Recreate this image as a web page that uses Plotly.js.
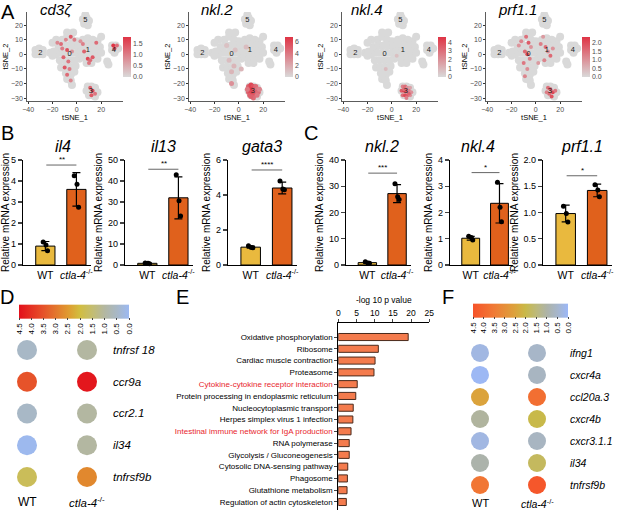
<!DOCTYPE html>
<html><head><meta charset="utf-8">
<script src="https://cdn.plot.ly/plotly-3.0.1.min.js"></script>
<style>html,body{margin:0;padding:0;background:#fff}#chart{width:617px;height:512px}</style>
</head><body><div id="chart"></div>
<script>
const W=617,H=512;
const FONT='"Liberation Sans", Arial, sans-serif';

// ================= DATA =================
// A: tSNE background cells (approximate cluster clouds)
const cellX=[-12,-8,-4,0,-15,-11,-7,-3,1,-16,-12,-8,-4,0,3,-14,-10,-6,-2,2,-13,-9,-5,-1,-9,-5,-2,-8,-5,-4,
 5,9,13,17,3,7,11,15,19,4,8,12,16,20,5,9,13,17,8,12,
 -34,-31,-28,-34,-31,-28,-22,-19,-17,-20,
 29,32,29,32,34,31, 25,26,
 5,8,10,6,9,7,
 9,12,15,8,11,14,17,10,13,15,
 -17,-20,20,-3,-8];
const cellY=[10,12,10,9,5,6,6,6,5,1,1,1,1,1,2,-4,-4,-4,-4,-3,-9,-9,-9,-8,-13,-14,-12,-17,-18,-21,
 10,11,10,9,6,6,6,6,5,2,2,2,2,1,-2,-2,-2,-3,-6,-6,
 3,4,3,0,0,0,1,2,0,-1,
 6,6,3,3,4,1, -5,-7,
 24,25,23,21,20,27,
 -22,-22,-23,-25,-25,-25,-26,-28,-28,-29,
 10,8,12,15,15];
const clusterIds=['0','1','2','3','4','5'];
const clusterX=[-6,9,-30,11.6,30.5,7];
const clusterY=[0,2.6,0.7,-25,3,23.6];
const tsneGenes=['cd3ζ','nkl.2','nkl.4','prf1.1'];
const cd3zX=[-13,-9,-5,-12,-8,-4,-11,-7,-10,-6,-8,-5,5,6,9,11,13,10,3,30,31,33,11,13,15,12,-16,-2,16];
const cd3zY=[7,10,12,4,3,2,-2,-5,-9,-10,-14,-18,7,2,-3,-4,-2,-6,9,6,4,6,-23,-25,-27,-28,8,10,8];
const cd3zV=[1.2,0.9,1.4,1.0,1.5,0.8,1.3,1.1,1.4,1.0,1.2,0.9,1.0,1.3,1.6,1.2,1.4,1.1,0.8,1.8,1.5,1.2,1.3,1.6,1.1,1.4,0.9,1.0,1.2];
const nkl2X=[8,10,12,14,9,11,13,15,8,10,12,14,16,9,11,13,15,12,10,7,17,-6,-4,-8,-3,-10,6,2,-6];
const nkl2Y=[-22,-21,-22,-22,-24,-24,-24,-24,-26,-26,-26,-26,-26,-28,-28,-28,-28,-30,-29,-24,-24,-20,-8,-4,3,6,5,-10,-12];
const nkl2V=[5,6,5.5,4.5,6,6.5,5,4,5,6,6,5,4.5,5,6,5.5,4,4.5,5,4,3.5,3,1.5,1.2,1,1,1.2,1.5,1.5];
const nkl4X=[9,11,13,15,8,10,12,14,16,9,11,13,15,12,10,14,-5,4];
const nkl4Y=[-22,-22,-23,-23,-25,-25,-25,-25,-26,-28,-28,-28,-28,-30,-24,-27,-10,-1];
const nkl4V=[2.5,3,2,1.5,3.5,4.2,3.8,2.5,2,3,4,3.5,2,2.5,3,3.2,0.8,0.7];
const prf1X=[-8,-12,-6,-4,-9,-7,-5,-10,-7,-9,4,8,10,12,7,14,6,10,12,14,11,9,13,16,-14,2];
const prf1Y=[12,9,8,5,2,0,-3,-6,-10,-15,7,5,2,-1,-4,4,12,-23,-24,-26,-27,-26,-29,-25,6,-6];
const prf1V=[1.5,1.2,1.8,1.0,1.6,2.0,1.3,1.4,1.1,1.2,1.3,1.5,1.1,1.6,1.2,1.0,0.9,1.5,1.8,2.1,1.6,1.3,1.9,1.4,1.0,0.9];
const tsneMax=[1.8,6.8,4.6,2.35];
const tsneTicks=[[0,0.5,1,1.5],[0,2,4,6],[0,1,2,3,4],[0,0.5,1,1.5,2]];

// B/C: qPCR bars
const barGenes=['il4','il13','gata3','nkl.2','nkl.4','prf1.1'];
const groups=['WT','<i>ctla-4</i><sup>-/-</sup>'];
const barMean=[[0.9,3.6],[0.8,32],[1.02,4.4],[0.9,27.2],[1.02,2.35],[0.98,1.42]];
const barSD=[[0.22,0.8],[0.3,10],[0.06,0.34],[0.25,3.4],[0.07,0.75],[0.16,0.12]];
const wtPts=[[1.1,0.95,0.68],[1.0,0.8,0.6],[1.1,1.0,0.98],[1.2,0.8,0.7],[1.1,1.05,0.95],[1.12,0.98,0.82]];
const koPts=[[4.25,3.85,2.75],[43,30.6,23.3],[4.8,4.35,4.3],[31,26,25],[3.15,2.2,1.65],[1.53,1.43,1.3]];
const sigY=[4.76,45.6,5.43,35,3.52,1.7];
const sigText=['**','**','****','***','*','*'];
const yMax=[5,50,6,40,4,2];
const yTicks=[[0,1,2,3,4,5],[0,10,20,30,40,50],[0,2,4,6],[0,10,20,30,40],[0,1,2,3,4],[0,0.5,1,1.5,2]];

// E: KEGG enrichment
const keggTerms=['Oxidative phosphorylation','Ribosome','Cardiac muscle contraction','Proteasome',
 'Cytokine-cytokine receptor interaction','Protein processing in endoplasmic reticulum','Nucleocytoplasmic transport',
 'Herpes simplex virus 1 infection','Intestinal immune network for IgA production','RNA polymerase',
 'Glycolysis / Gluconeogenesis','Cytosolic DNA-sensing pathway','Phagosome','Glutathione metabolism','Regulation of actin cytoskeleton'];
const keggLogP=[19.2,11.0,10.1,9.8,5.2,4.8,4.1,4.0,3.5,3.0,3.0,2.6,2.5,2.4,2.2];
const keggHighlight=[0,0,0,0,1,0,0,0,1,0,0,0,0,0,0];

// D: dot heat map
const dGenes=['tnfrsf 18','ccr9a','ccr2.1','il34','tnfrsf9b'];
const dWT=[0.5,3.5,0.5,0.05,1.75];
const dKO=[1.0,4.4,1.0,1.0,2.75];
// F: dot heat map
const fGenes=['ifng1','cxcr4a','ccl20a.3','cxcr4b','cxcr3.1.1','il34','tnfrsf9b'];
const fWT=[0.25,0.05,2.5,1.1,0.25,0.95,3.6];
const fKO=[0.55,0.65,3.8,2.0,0.65,1.8,4.4];
const heatTicks=[4.5,4.0,3.5,3.0,2.5,2.0,1.5,1.0,0.5,0.0];

// ================= BUILD =================
const traces=[];
const layout={width:W,height:H,margin:{l:0,r:0,t:0,b:0},paper_bgcolor:'#fff',plot_bgcolor:'rgba(0,0,0,0)',
  showlegend:false,font:{family:FONT,color:'#000'},annotations:[],shapes:[]};
let axN=0;
function addAxes(xd,yd,xo,yo){
  axN++; const s=axN===1?'':String(axN);
  layout['xaxis'+s]=Object.assign({domain:[xd[0]/W,xd[1]/W],anchor:'y'+s,showgrid:false,zeroline:false,fixedrange:true},xo);
  layout['yaxis'+s]=Object.assign({domain:[1-yd[1]/H,1-yd[0]/H],anchor:'x'+s,showgrid:false,zeroline:false,fixedrange:true},yo);
  return {x:'x'+s,y:'y'+s};
}
function ann(x,y,text,o){layout.annotations.push(Object.assign({xref:'paper',yref:'paper',x:x/W,y:1-y/H,text:text,showarrow:false,xanchor:'center',yanchor:'middle',font:{size:10}},o||{}));}

// ---- A ----
const tsneL=[27,189,342,486];
const tsneTitleX=[56,217,367,517];
const exprX=[cd3zX,nkl2X,nkl4X,prf1X], exprY=[cd3zY,nkl2Y,nkl4Y,prf1Y], exprV=[cd3zV,nkl2V,nkl4V,prf1V];
const redScale=[[0,'#d9d9d9'],[1,'#df3445']];
for(let k=0;k<4;k++){
  const L=tsneL[k];
  const a=addAxes([L,L+96],[12,101],
    {range:[-41,38],tickvals:[-40,-20,0,20],showline:true,linecolor:'#333',linewidth:0.8,ticks:'outside',ticklen:2,tickcolor:'#333',
     tickfont:{size:7,color:'#4d4d4d'},title:{text:'tSNE_1',font:{size:7.5},standoff:1}},
    {range:[-32,29],tickvals:[-30,-20,-10,0,10,20],showline:true,linecolor:'#333',linewidth:0.8,ticks:'outside',ticklen:2,tickcolor:'#333',
     tickfont:{size:7,color:'#4d4d4d'},title:{text:'tSNE_2',font:{size:7.5},standoff:1}});
  traces.push({type:'scatter',mode:'markers',x:cellX,y:cellY,xaxis:a.x,yaxis:a.y,marker:{size:8,color:'#d9d9d9'},hoverinfo:'skip'});
  traces.push({type:'scatter',mode:'markers',x:exprX[k],y:exprY[k],xaxis:a.x,yaxis:a.y,hoverinfo:'skip',
    marker:{size:k===1?5:4,color:exprV[k],colorscale:redScale,cmin:0,cmax:tsneMax[k],showscale:true,
      colorbar:{x:(L+96)/W,xanchor:'left',xpad:0,y:1-57/H,yanchor:'middle',ypad:0,len:40,lenmode:'pixels',thickness:8,
        outlinewidth:0,ticks:'',tickvals:tsneTicks[k],tickformat:(k===0||k===3)?'.1f':'d',tickfont:{size:7,color:'#4d4d4d'}}}});
  traces.push({type:'scatter',mode:'text',x:clusterX,y:clusterY,text:clusterIds,xaxis:a.x,yaxis:a.y,textfont:{size:7.5,color:'#222'},hoverinfo:'skip'});
  ann(tsneTitleX[k],9,'<i>'+tsneGenes[k]+'</i>',{font:{size:15}});
}

// ---- B / C ----
const barXd=[[23,91],[125,193],[228,297],[346,411],[450,513],[543,612]];
const barTitleX=[63,163,262,382,478,582];
const jit=[-0.07,0.02,0.07];
for(let k=0;k<6;k++){
  const a=addAxes(barXd[k],[160,265],
    {range:[-0.72,1.47],tickvals:[0,1],ticktext:groups,showline:true,linecolor:'#000',linewidth:1.2,ticks:'',tickfont:{size:10.5}},
    {range:[0,yMax[k]],tickvals:yTicks[k],tickformat:k===5?'.1f':'',showline:true,linecolor:'#000',linewidth:1.2,ticks:'outside',ticklen:4,
     tickwidth:1.2,tickfont:{size:9},title:{text:'Relative mRNA expression',font:{size:10},standoff:3}});
  traces.push({type:'bar',x:[0,1],y:barMean[k],xaxis:a.x,yaxis:a.y,width:0.62,
    marker:{color:['#e9b93e','#e0611c'],line:{color:'#000',width:1}},
    error_y:{type:'data',array:barSD[k],visible:true,color:'#000',thickness:1.2,width:4},hoverinfo:'skip'});
  traces.push({type:'scatter',mode:'markers',x:jit.concat(jit.map(j=>1+j)),y:wtPts[k].concat(koPts[k]),xaxis:a.x,yaxis:a.y,
    marker:{size:5,color:'#000'},hoverinfo:'skip',cliponaxis:false});
  traces.push({type:'scatter',mode:'lines',x:[0.03,1.0],y:[sigY[k],sigY[k]],xaxis:a.x,yaxis:a.y,line:{color:'#666',width:1},hoverinfo:'skip',cliponaxis:false});
  layout.annotations.push({xref:a.x,yref:a.y,x:0.52,y:sigY[k],text:sigText[k],showarrow:false,yanchor:'bottom',yshift:-1,font:{size:8}});
  ann(barTitleX[k],146,'<i>'+barGenes[k]+'</i>',{font:{size:16}});
}

// ---- E ----
const eA=addAxes([338.3,429.3],[323,510],
  {range:[0,25],side:'top',tickvals:[0,5,10,15,20,25],showline:true,linecolor:'#000',linewidth:1,ticks:'outside',ticklen:3,
   tickfont:{size:8.5},title:{text:'-log 10 p value',font:{size:8.5},standoff:2}},
  {type:'category',categoryorder:'array',categoryarray:keggTerms,range:[14.68,-1.19],autorange:false,showline:true,linecolor:'#000',linewidth:1,
   ticks:'outside',ticklen:3,tickfont:{size:8},tickvals:keggTerms,
   ticktext:keggTerms.map((t,i)=>keggHighlight[i]?'<span style="color:#e8262d">'+t+'</span>':t)});
traces.push({type:'bar',orientation:'h',y:keggTerms,x:keggLogP,xaxis:eA.x,yaxis:eA.y,width:0.6,
  marker:{color:'#f47b4d',line:{color:'#4a2a1c',width:1}},hoverinfo:'skip'});

// ---- D / F ----
const scaleD=[[0,'#e3101c'],[0.22,'#e6522a'],[0.44,'#e0982f'],[0.55,'#d2bd3f'],[0.67,'#c3bd72'],[0.78,'#b3b7a2'],[0.89,'#a8b8c6'],[1,'#9cb9f2']];
const scaleF=[[0,'#f6532a'],[0.22,'#f07a35'],[0.44,'#dca23c'],[0.55,'#c9b948'],[0.67,'#bcb97c'],[0.78,'#adb3a8'],[0.89,'#a6b6cc'],[1,'#9cb8f8']];
function dotPanel(xd,yd,xr,yr,genes,wt,ko,scale,size,cb,labelX,labelFont,botY,botX,botFont){
  const a=addAxes(xd,yd,{range:xr,visible:false},{range:yr,visible:false});
  const idx=genes.map((g,i)=>i);
  const neg=v=>v.map(z=>-z);
  traces.push({type:'scatter',mode:'markers',x:idx.map(()=>0),y:idx,xaxis:a.x,yaxis:a.y,hoverinfo:'skip',
    marker:{size:size,color:neg(wt),colorscale:scale,cmin:-4.5,cmax:0,showscale:false}});
  traces.push({type:'scatter',mode:'markers',x:idx.map(()=>1),y:idx,xaxis:a.x,yaxis:a.y,hoverinfo:'skip',
    marker:{size:size,color:neg(ko),colorscale:scale,cmin:-4.5,cmax:0,showscale:true,
      colorbar:Object.assign({orientation:'h',xanchor:'center',yanchor:'bottom',xpad:0,ypad:0,lenmode:'pixels',thickness:14,outlinewidth:0,
        ticks:'outside',ticklen:2,ticklabelposition:'outside top',tickangle:-90,tickfont:{size:8},
        tickvals:heatTicks.map(t=>-t),ticktext:heatTicks.map(t=>t.toFixed(1))},cb)}});
  genes.forEach((g,i)=>layout.annotations.push({xref:'paper',yref:a.y,x:labelX/W,y:i,text:'<i>'+g+'</i>',showarrow:false,xanchor:'left',font:{size:labelFont}}));
  ann(botX[0],botY,'WT',{font:{size:botFont}});
  ann(botX[1],botY,'<i>ctla-4</i><sup>-/-</sup>',{font:{size:botFont-0.5}});
}
dotPanel([0,117],[334,494],[-0.45,1.5],[4.536,-0.504],dGenes,dWT,dKO,scaleD,20,
  {x:74/W,y:1-335/H,len:110},111,11.5,502,[27,87],12);
dotPanel([455,565],[340,496],[-0.439,1.491],[6.5,-0.59],fGenes,fWT,fKO,scaleF,18,
  {x:520.5/W,y:1-334/H,len:95},568,10.5,503,[480,537],11);

// panel letters
[['A',8,12],['B',7,133],['C',311,133],['D',7,297],['E',182,297],['F',448,297]].forEach(p=>ann(p[1],p[2],p[0],{font:{size:20}}));

Plotly.newPlot('chart',traces,layout,{staticPlot:true,displayModeBar:false});
</script></body></html>
